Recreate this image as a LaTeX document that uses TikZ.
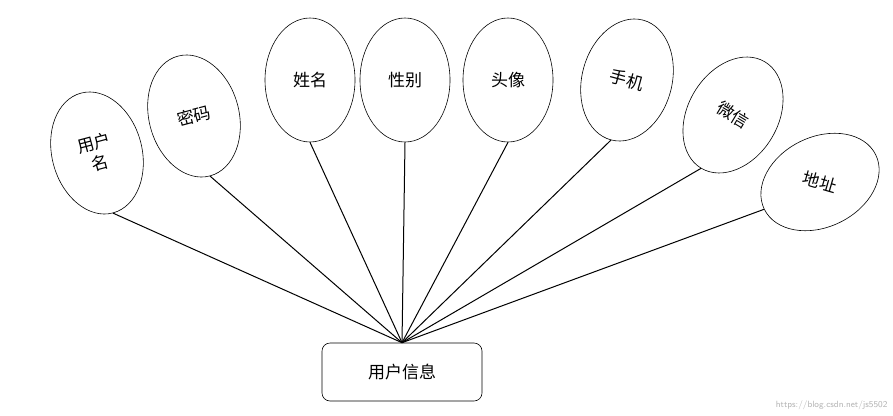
\documentclass[tikz,border=0pt]{standalone}
\usepackage{fontspec}
\newfontfamily\cjk{Noto Sans CJK SC}
\usetikzlibrary{shapes.geometric}
\begin{document}
\begin{tikzpicture}[x=1pt,y=-1pt,
  attr/.style={ellipse, draw, line width=0.6pt, minimum width=90pt, minimum height=124pt, inner sep=0pt, font=\cjk\fontsize{17}{21}\selectfont, align=center},
  entity/.style={draw, rounded corners=8pt, line width=0.6pt, minimum width=160pt, minimum height=58pt, font=\cjk\fontsize{17}{21}\selectfont}]
\useasboundingbox (0,0) rectangle (893,415);
\node[entity] (info) at (402,372) {用户信息};
\node[attr, rotate=15] (name) at (97,153) {用户\\名};
\node[attr, rotate=15] (pwd) at (194,116) {密码};
\node[attr] (real) at (310,80) {姓名};
\node[attr] (sex) at (405,80) {性别};
\node[attr] (head) at (508,80) {头像};
\node[attr, rotate=-15] (phone) at (627,80) {手机};
\node[attr, rotate=-31] (wx) at (733,115) {微信};
\node[attr, rotate=-64] (addr) at (820,182) {\rotatebox{48}{地址}};
\foreach \a in {name,pwd,real,sex,head,phone,wx,addr}
  \draw[line width=1pt] (\a.south) -- (info.north);
\node[text=gray!60, font=\sffamily\fontsize{9}{10}\selectfont, anchor=south east] (mark) at (891,413) {https://blog.csdn.net/js5502};
\end{tikzpicture}
\end{document}
